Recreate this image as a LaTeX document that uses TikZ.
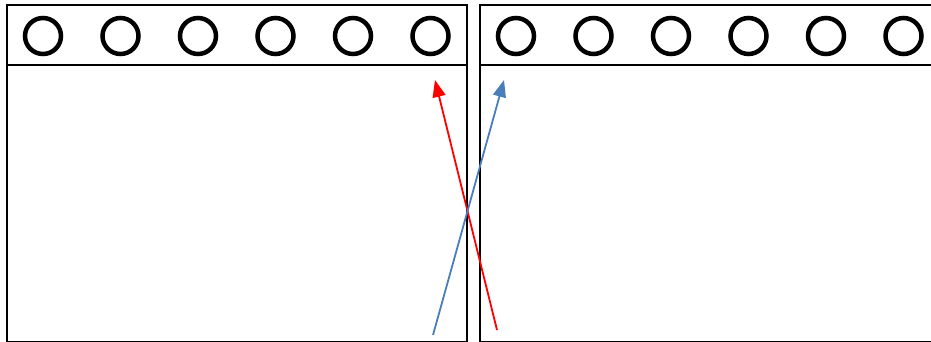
\documentclass[tikz,border=0pt]{standalone}
\usetikzlibrary{arrows.meta}

\definecolor{arrowblue}{RGB}{74,126,187}

\begin{document}
\begin{tikzpicture}[x=1pt, y=-1pt]
      \tikzset{
  frame/.style={draw, line width=2.8pt},
  hole/.style={circle, draw, line width=4.5pt, minimum size=36pt, inner sep=0pt},
  arrow/.style={-{Triangle[length=17pt, width=13pt]}, line width=1.8pt},
  redarrow/.style={arrow, red},
  bluearrow/.style={arrow, arrowblue},
}

\useasboundingbox (0,0) rectangle (931,342);
\clip (0,0) rectangle (931,342);

%% ---- FRAMES ----
\draw[frame] (7,5) rectangle (467,342);
\draw[frame] (7,65) -- (467,65);
\draw[frame] (480,5) rectangle (960,342);
\draw[frame] (480,65) -- (960,65);

%% ---- HOLES ----
\foreach \i/\x in {1/43, 2/120.5, 3/198, 4/275.5, 5/353, 6/430.5} {
  \node[hole] (lhole\i) at (\x,36) {};
}
\foreach \i/\x in {1/516, 2/593.5, 3/671, 4/748.5, 5/826, 6/903.5} {
  \node[hole] (rhole\i) at (\x,36) {};
}

%% ---- ARROWS ----
\coordinate (redtail) at (497,330);
\coordinate (redtip)  at (435,80);
\coordinate (bluetail) at (433,335);
\coordinate (bluetip)  at (504,80);

\draw[redarrow]  (redtail)  -- (redtip);
\draw[bluearrow] (bluetail) -- (bluetip);

    \end{tikzpicture}
\end{document}
